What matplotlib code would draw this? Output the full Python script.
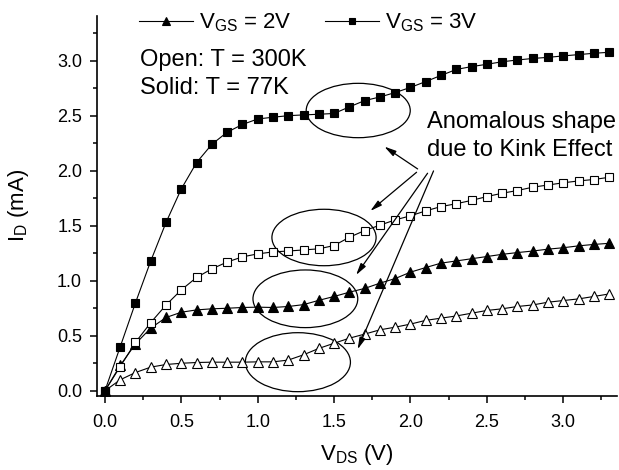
import matplotlib
matplotlib.use("Agg")
import matplotlib.pyplot as plt
from matplotlib.patches import Ellipse
from matplotlib.ticker import MultipleLocator, FormatStrFormatter

plt.rcParams['font.family'] = ['Liberation Sans', 'DejaVu Sans']
plt.rcParams['mathtext.default'] = 'regular'

vds = [0.0, 0.1, 0.2, 0.3, 0.4, 0.5, 0.6, 0.7, 0.8, 0.9, 1.0, 1.1, 1.2, 1.3, 1.4, 1.5, 1.6,
       1.7, 1.8, 1.9, 2.0, 2.1, 2.2, 2.3, 2.4, 2.5, 2.6, 2.7, 2.8, 2.9, 3.0, 3.1, 3.2, 3.3]

# VGS = 3V, 77K (solid squares)
id_3v_77k = [0.0, 0.40, 0.80, 1.18, 1.53, 1.835, 2.074, 2.24, 2.35, 2.42, 2.47, 2.486, 2.50, 2.507,
             2.513, 2.52, 2.58, 2.637, 2.67, 2.71, 2.757, 2.81, 2.866, 2.92, 2.946, 2.967, 2.99,
             3.006, 3.02, 3.03, 3.043, 3.055, 3.067, 3.076]
# VGS = 3V, 300K (open squares)
id_3v_300k = [0.0, 0.22, 0.44, 0.62, 0.78, 0.917, 1.03, 1.108, 1.17, 1.217, 1.244, 1.262, 1.27, 1.28,
              1.29, 1.32, 1.395, 1.456, 1.505, 1.553, 1.59, 1.635, 1.674, 1.70, 1.73, 1.765, 1.795,
              1.82, 1.85, 1.87, 1.89, 1.907, 1.92, 1.94]
# VGS = 2V, 77K (solid triangles)
id_2v_77k = [0.0, 0.23, 0.427, 0.57, 0.666, 0.714, 0.735, 0.745, 0.75, 0.757, 0.76, 0.757, 0.766,
             0.783, 0.822, 0.857, 0.896, 0.93, 0.978, 1.02, 1.078, 1.12, 1.16, 1.18, 1.20, 1.22,
             1.24, 1.256, 1.27, 1.287, 1.30, 1.317, 1.33, 1.34]
# VGS = 2V, 300K (open triangles)
id_2v_300k = [0.0, 0.10, 0.166, 0.215, 0.239, 0.25, 0.257, 0.26, 0.26, 0.26, 0.263, 0.263, 0.279,
              0.327, 0.385, 0.432, 0.478, 0.515, 0.554, 0.578, 0.606, 0.64, 0.66, 0.68, 0.705,
              0.73, 0.745, 0.766, 0.78, 0.805, 0.82, 0.835, 0.857, 0.88]

legend_labels = ['$V_{GS}$ = 2V', '$V_{GS}$ = 3V']
note_lines = ['Open: T = 300K', 'Solid: T = 77K']
annotation_lines = ['Anomalous shape', 'due to Kink Effect']

# ellipses: (x center, y center, width, height)
ellipses = [(1.658, 2.547, 0.681, 0.494),
            (1.434, 1.393, 0.682, 0.513),
            (1.312, 0.836, 0.686, 0.524),
            (1.263, 0.260, 0.688, 0.536)]
# arrows: (tail x, tail y, head x, head y)
arrows = [(2.047, 2.016, 1.829, 2.219),
          (2.040, 1.986, 1.737, 1.634),
          (2.112, 1.977, 1.644, 1.052),
          (2.151, 1.998, 1.654, 0.377)]

fig = plt.figure(figsize=(6.19, 4.70), dpi=100)
ax = fig.add_axes([0.1562, 0.158, 0.8401, 0.808])

lw = 0.8
l2, = ax.plot(vds, id_2v_77k, '-', color='black', lw=lw, marker='^', ms=7.5,
              mfc='black', mec='black', mew=0.8, label=legend_labels[0], zorder=3)
ax.plot(vds, id_2v_300k, '-', color='black', lw=lw, marker='^', ms=7.5,
        mfc='white', mec='black', mew=0.8, zorder=3)
ax.plot(vds, id_3v_300k, '-', color='black', lw=lw, marker='s', ms=6,
        mfc='white', mec='black', mew=0.8, zorder=3)
l3, = ax.plot(vds, id_3v_77k, '-', color='black', lw=lw, marker='s', ms=5.5,
              mfc='black', mec='black', mew=0.8, label=legend_labels[1], zorder=4)

for (cx, cy, w, h) in ellipses:
    ax.add_patch(Ellipse((cx, cy), w, h, fill=False, ec='black', lw=0.9, zorder=2))

for (tx, ty, hx, hy) in arrows:
    ax.annotate('', xy=(hx, hy), xytext=(tx, ty),
                arrowprops=dict(arrowstyle='-|>,head_length=0.7,head_width=0.18',
                                color='black', lw=0.9, shrinkA=0, shrinkB=0), zorder=5)

ax.set_xlim(-0.054, 3.35)
ax.set_ylim(-0.045, 3.406)

ax.spines['top'].set_visible(False)
ax.spines['right'].set_visible(False)
for s in ['left', 'bottom']:
    ax.spines[s].set_linewidth(1.2)

ax.xaxis.set_major_locator(MultipleLocator(0.5))
ax.xaxis.set_minor_locator(MultipleLocator(0.25))
ax.yaxis.set_major_locator(MultipleLocator(0.5))
ax.yaxis.set_minor_locator(MultipleLocator(0.25))
ax.xaxis.set_major_formatter(FormatStrFormatter('%.1f'))
ax.yaxis.set_major_formatter(FormatStrFormatter('%.1f'))
ax.tick_params(which='major', direction='out', length=5, width=1.1, labelsize=13)
ax.tick_params(axis='x', which='major', pad=8)
ax.tick_params(axis='y', which='major', pad=5.5)
ax.tick_params(which='minor', direction='out', length=3, width=1.1)

ax.set_xlabel('$V_{DS}$ (V)', fontsize=16, labelpad=8)
ax.set_ylabel('$I_D$ (mA)', fontsize=16, labelpad=19)

ax.legend(handles=[l2, l3], loc='center left', bbox_to_anchor=(0.082, 0.982), ncol=2,
          frameon=False, fontsize=16, handlelength=2.4, handletextpad=0.3,
          columnspacing=1.5, borderpad=0, borderaxespad=0, markerscale=0.85)

ax.text(0.083, 0.869, note_lines[0], transform=ax.transAxes, fontsize=17, va='baseline')
ax.text(0.083, 0.7946, note_lines[1], transform=ax.transAxes, fontsize=17, va='baseline')
ax.text(0.635, 0.7043, annotation_lines[0], transform=ax.transAxes, fontsize=17, va='baseline')
ax.text(0.635, 0.6326, annotation_lines[1], transform=ax.transAxes, fontsize=17, va='baseline')

fig.savefig('out.png', dpi=100)
